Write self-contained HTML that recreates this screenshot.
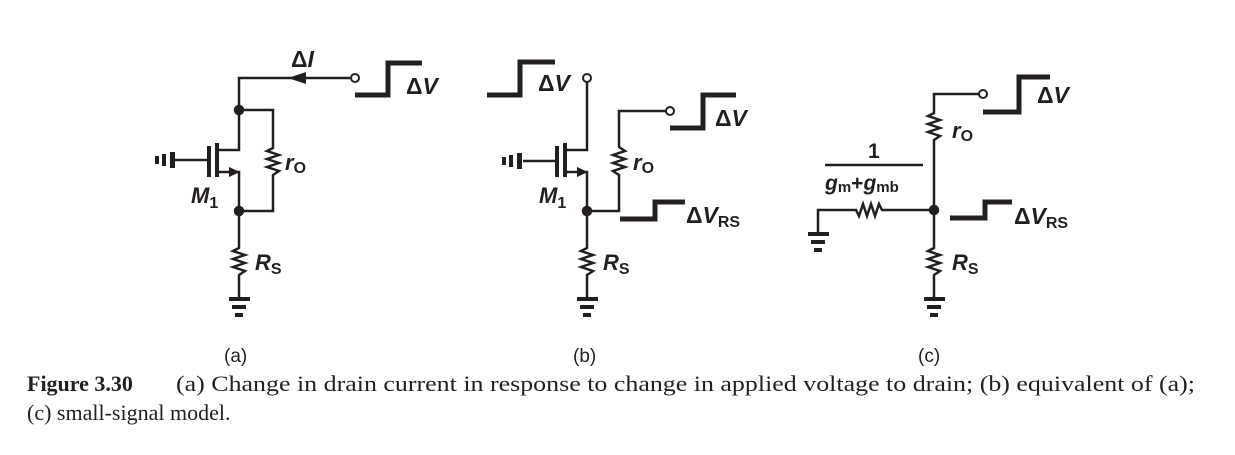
<!DOCTYPE html>
<html><head><meta charset="utf-8"><style>
html,body{margin:0;padding:0;background:#fff;}
svg{display:block;}
.l{font-family:"Liberation Sans",sans-serif;font-weight:bold;font-style:italic;fill:#231f20;}
.d{font-style:normal;}
.s{font-family:"Liberation Sans",sans-serif;fill:#231f20;}
.c{font-family:"Liberation Serif",serif;fill:#231f20;font-size:22px;}
</style></head><body>
<svg width="1235" height="455" viewBox="0 0 1235 455" xmlns="http://www.w3.org/2000/svg">
<g stroke="#231f20" fill="none" stroke-width="2.5" stroke-linejoin="miter">
<!-- (a) -->
<polyline points="350,78 239,78 239,150 217,150"/>
<polygon points="288,78 306,72 306,84" fill="#231f20" stroke="none"/>
<circle cx="355" cy="78" r="4" fill="#fff" stroke-width="2"/>
<polyline points="355,95 388,95 388,63 422,63" stroke-width="5"/>
<polyline points="239,110 273,110 273,148 267,151 279,155 267,159 279,163 267,167 279,171 273,175 273,211 239,211"/>
<line x1="217" y1="143" x2="217" y2="177" stroke-width="4"/>
<line x1="209" y1="146" x2="209" y2="177" stroke-width="4"/>
<line x1="175" y1="160" x2="209" y2="160"/>
<rect x="155" y="156" width="4" height="8" fill="#231f20" stroke="none"/>
<rect x="162" y="154" width="4" height="12" fill="#231f20" stroke="none"/>
<rect x="170" y="152" width="5" height="16" fill="#231f20" stroke="none"/>
<polyline points="217,172 239,172 239,211"/>
<polygon points="240,172 229,167 229,177" fill="#231f20" stroke="none"/>
<polyline points="239,211 239,248 233,251 245,255 233,259 245,263 233,267 245,271 239,275 239,298"/>
<circle cx="239" cy="110" r="4" fill="#231f20"/>
<circle cx="239" cy="211" r="4" fill="#231f20"/>
<g fill="#231f20" stroke="none"><rect x="229" y="297" width="21" height="4"/><rect x="232" y="305" width="14" height="4"/><rect x="235" y="313" width="8" height="4"/></g>
<!-- (b) -->
<polyline points="487,95 520,95 520,62 555,62" stroke-width="5"/>
<circle cx="587" cy="78" r="4" fill="#fff" stroke-width="2"/>
<polyline points="587,82 587,150 566,150"/>
<line x1="565" y1="143" x2="565" y2="177" stroke-width="4"/>
<line x1="557" y1="146" x2="557" y2="177" stroke-width="4"/>
<line x1="523" y1="161" x2="557" y2="161"/>
<rect x="502" y="157" width="4" height="8" fill="#231f20" stroke="none"/>
<rect x="509" y="155" width="4" height="12" fill="#231f20" stroke="none"/>
<rect x="517" y="153" width="5" height="16" fill="#231f20" stroke="none"/>
<polyline points="565,172 587,172 587,248 581,251 593,255 581,259 593,263 581,267 593,271 587,275 587,298"/>
<polygon points="588,172 577,167 577,177" fill="#231f20" stroke="none"/>
<polyline points="587,211 619,211 619,175 613,171 625,167 613,163 625,159 613,155 625,151 619,147 619,111 666,111"/>
<circle cx="670" cy="111" r="4" fill="#fff" stroke-width="2"/>
<polyline points="670,128 703,128 703,95 736,95" stroke-width="5"/>
<polyline points="620,219 655,219 655,202 685,202" stroke-width="5"/>
<circle cx="587" cy="211" r="4" fill="#231f20"/>
<g fill="#231f20" stroke="none"><rect x="577" y="297" width="21" height="4"/><rect x="580" y="305" width="14" height="4"/><rect x="583" y="313" width="8" height="4"/></g>
<!-- (c) -->
<circle cx="983" cy="94" r="4" fill="#fff" stroke-width="2"/>
<polyline points="979,94 934,94 934,113 928,116 940,120 928,124 940,128 928,132 940,136 934,140 934,248 928,251 940,255 928,259 940,263 928,267 940,271 934,275 934,298"/>
<polyline points="934,210 882,210 879,204 875,216 871,204 867,216 863,204 859,216 856,210 818,210 818,233"/>
<circle cx="934" cy="210" r="4" fill="#231f20"/>
<polyline points="983,112 1019,112 1019,77 1050,77" stroke-width="5"/>
<polyline points="950,218 985,218 985,202 1012,202" stroke-width="5"/>
<line x1="825" y1="165" x2="923" y2="165" stroke-width="2.5"/>
<g fill="#231f20" stroke="none"><rect x="808" y="232" width="21" height="4"/><rect x="811" y="240" width="14" height="4"/><rect x="814" y="248" width="8" height="4"/>
<rect x="924" y="297" width="21" height="4"/><rect x="927" y="305" width="14" height="4"/><rect x="930" y="313" width="8" height="4"/></g>
</g>
<!-- labels -->
<text class="l" x="291" y="67" font-size="23"><tspan class="d">Δ</tspan>I</text>
<text class="l" x="406" y="94" font-size="23"><tspan class="d">Δ</tspan>V</text>
<text class="l" x="285" y="170" font-size="22">r<tspan font-size="16" font-style="normal" dy="3">O</tspan></text>
<text class="l" x="191" y="203" font-size="22">M<tspan font-size="16" font-style="normal" dy="5">1</tspan></text>
<text class="l" x="255" y="270" font-size="22">R<tspan font-size="16" font-style="normal" dy="4">S</tspan></text>

<text class="l" x="538" y="91" font-size="23"><tspan class="d">Δ</tspan>V</text>
<text class="l" x="715" y="126" font-size="23"><tspan class="d">Δ</tspan>V</text>
<text class="l" x="633" y="170" font-size="22">r<tspan font-size="16" font-style="normal" dy="3">O</tspan></text>
<text class="l" x="539" y="203" font-size="22">M<tspan font-size="16" font-style="normal" dy="5">1</tspan></text>
<text class="l" x="686" y="223" font-size="23"><tspan class="d">Δ</tspan>V<tspan font-size="16" font-style="normal" dy="4">RS</tspan></text>
<text class="l" x="603" y="270" font-size="22">R<tspan font-size="16" font-style="normal" dy="4">S</tspan></text>

<text class="l" x="1037" y="103" font-size="23"><tspan class="d">Δ</tspan>V</text>
<text class="l" x="952" y="138" font-size="22">r<tspan font-size="16" font-style="normal" dy="3">O</tspan></text>
<text class="s" x="868" y="158" font-size="21" font-weight="bold">1</text>
<text class="l" x="825" y="190" font-size="21">g<tspan font-size="15" font-style="normal" font-weight="bold" dy="2">m</tspan><tspan dy="-2" font-style="normal">+</tspan>g<tspan font-size="15" font-style="normal" font-weight="bold" dy="2">mb</tspan></text>
<text class="l" x="1014" y="224" font-size="23"><tspan class="d">Δ</tspan>V<tspan font-size="16" font-style="normal" dy="4">RS</tspan></text>
<text class="l" x="952" y="270" font-size="22">R<tspan font-size="16" font-style="normal" dy="4">S</tspan></text>

<text class="s" x="224" y="362" font-size="19">(a)</text>
<text class="s" x="573" y="362" font-size="19">(b)</text>
<text class="s" x="918" y="362" font-size="19">(c)</text>

<text class="c" x="27" y="391" font-weight="bold">Figure 3.30</text>
<text class="c" x="176" y="391" textLength="1019" lengthAdjust="spacingAndGlyphs">(a) Change in drain current in response to change in applied voltage to drain; (b) equivalent of (a);</text>
<text class="c" x="27" y="420">(c) small-signal model.</text>
</svg>
</body></html>
